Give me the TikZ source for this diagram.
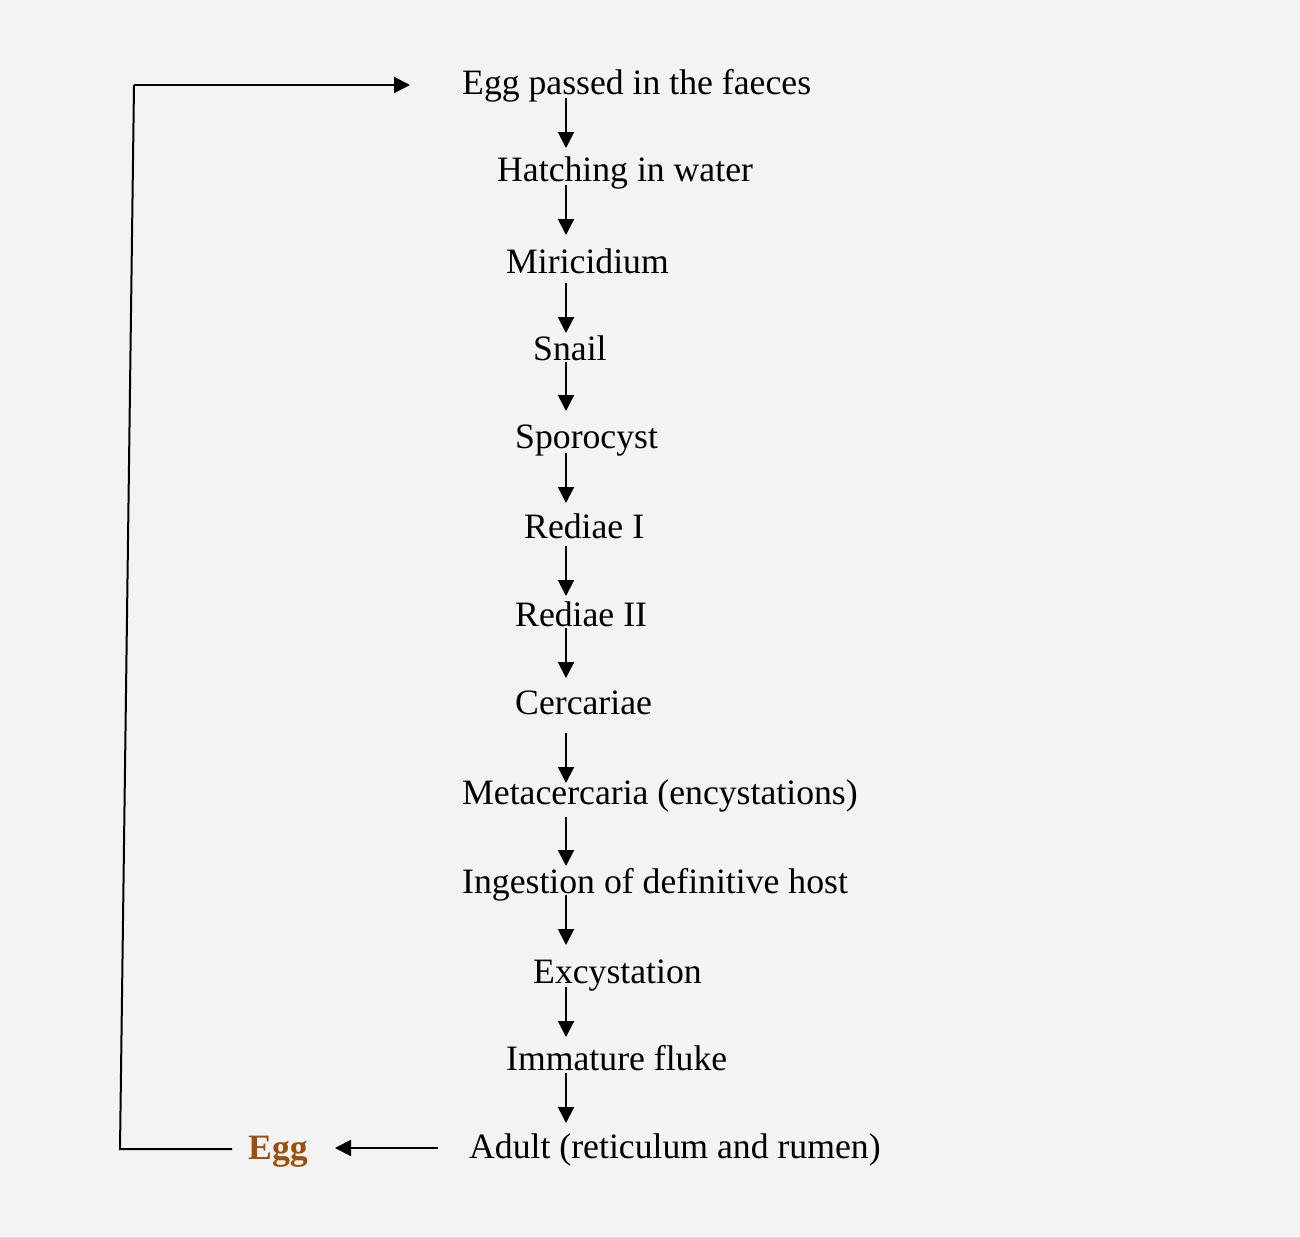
\documentclass[tikz,border=0pt]{standalone}
\usepackage{fontspec}
\setmainfont{Liberation Serif}
\usetikzlibrary{arrows.meta}
\definecolor{bgc}{HTML}{F3F3F3}
\definecolor{eggc}{HTML}{9C500E}
\begin{document}
\begin{tikzpicture}[x=1pt,y=-1pt,
  lbl/.style={inner sep=0pt, anchor=base west, font=\fontsize{35.7}{40}\selectfont},
  arr/.style={line width=2pt, -{Triangle[length=16pt,width=16pt]}},
  ln/.style={line width=2pt}]
\fill[bgc] (0,0) rectangle (1300,1236);
\useasboundingbox (0,0) rectangle (1300,1236);
\node[lbl] (n1) at (462,94.5) {Egg passed in the faeces};
\node[lbl] (n2) at (497,181.5) {Hatching in water};
\node[lbl] (n3) at (506,273.5) {Miricidium};
\node[lbl] (n4) at (533,360.5) {Snail};
\node[lbl] (n5) at (515,448.5) {Sporocyst};
\node[lbl] (n6) at (524,538.5) {Rediae I};
\node[lbl] (n7) at (515,626.5) {Rediae II};
\node[lbl] (n8) at (515,714.5) {Cercariae};
\node[lbl] (n9) at (462,804.5) {Metacercaria (encystations)};
\node[lbl] (n10) at (462,893.5) {Ingestion of definitive host};
\node[lbl] (n11) at (533,983.5) {Excystation};
\node[lbl] (n12) at (506,1070.5) {Immature fluke};
\node[lbl] (n13) at (469,1158.5) {Adult (reticulum and rumen)};
\node[lbl, font=\fontsize{35.7}{40}\selectfont\bfseries, text=eggc] (egg) at (248,1159) {Egg};
% vertical arrows
\foreach \i/\a/\b in {1/98/148, 2/185/235, 3/283/333, 4/362/411, 5/453/503, 6/546/596, 7/628/678, 8/733/783, 9/817/866, 10/895/945, 11/987/1037, 12/1073/1123}{
  \coordinate (s\i) at (566,\a);
  \coordinate (e\i) at (566,\b);
  \draw[arr] (s\i) -- (e\i);
}
% adult -> egg
\coordinate (ae) at (438,1148);
\coordinate (et) at (335,1148);
\draw[arr] (ae) -- (et);
% loop back
\coordinate (l0) at (232,1149);
\coordinate (l1) at (120,1149);
\coordinate (l2) at (134,85);
\coordinate (l3) at (410,85);
\draw[ln] (l0) -- (l1) -- (l2);
\draw[arr] (l2) -- (l3);
\end{tikzpicture}
\end{document}
